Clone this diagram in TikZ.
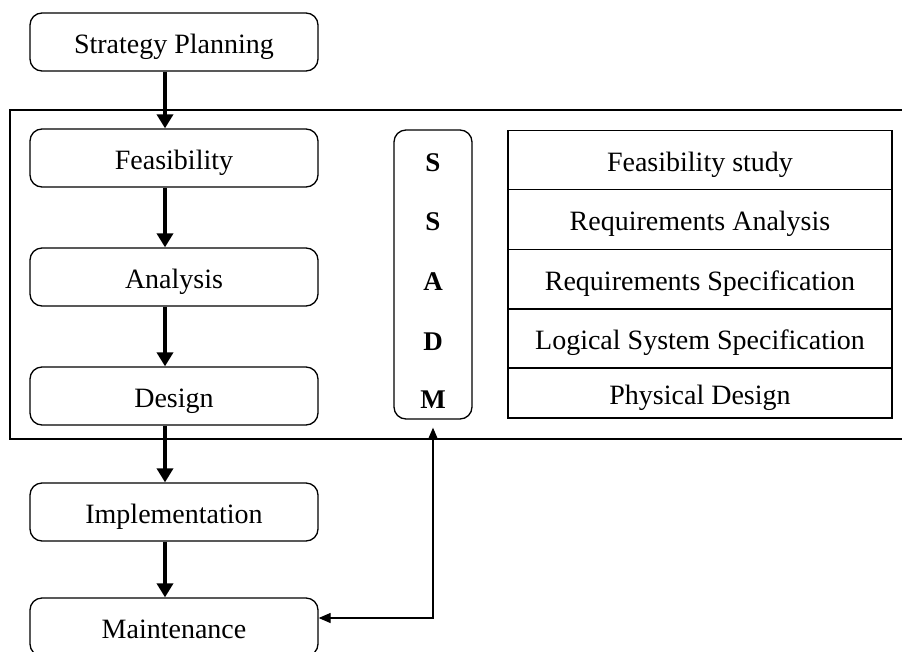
\documentclass[tikz,border=0pt]{standalone}
\usepackage{fontspec}
\setmainfont{Liberation Serif}
\usetikzlibrary{arrows.meta}

\begin{document}
\begin{tikzpicture}[x=1pt,y=-1pt,
    phase/.style={draw, line width=1.3pt, rounded corners=12pt, minimum width=288pt,
      minimum height=58pt, text height=22pt, text depth=0pt, inner sep=0pt,
      font=\fontsize{28}{32}\selectfont},
    row/.style={draw, line width=1.3pt, minimum width=384pt, minimum height=59.5pt,
      text height=22pt, text depth=0pt, inner sep=0pt, font=\fontsize{28}{32}\selectfont},
    letter/.style={font=\fontsize{27}{30}\bfseries\selectfont, inner sep=0pt},
    flow/.style={line width=3.5pt, -{Triangle[width=16pt,length=14pt]}},
    back/.style={line width=1.3pt, {Triangle[width=10pt,length=12pt]}-{Triangle[width=10pt,length=12pt]}}]
  \useasboundingbox (0,0) rectangle (902,651);

  % frame round the SSADM part
  \draw[line width=1.3pt] (905,110) -- (10,110) -- (10,439) -- (905,439);

  % life cycle phases
  \node[phase] (strat) at (174,42) {Strategy Planning};
  \node[phase] (feas) at (174,158) {Feasibility};
  \node[phase] (anal) at (174,277) {Analysis};
  \node[phase] (des) at (174,396) {Design};
  \node[phase] (impl) at (174,512) {Implementation};
  \node[phase] (maint) at (174,627) {Maintenance};

  % arrows between phases
  \foreach \a/\b in {strat/feas, feas/anal, anal/des, des/impl, impl/maint}
    \draw[flow] ([xshift=-9pt]\a.south) -- ([xshift=-9pt]\b.north);

  % SSADM column
  \node[draw, line width=1.3pt, rounded corners=12pt, minimum width=78pt,
        minimum height=289pt] (ssadm) at (433,274.5) {};
  \foreach \l/\y [count=\i] in {S/163, S/222, A/282, D/342, M/400}
    \node[letter] (let\i) at (433,\y) {\l};

  % SSADM stages
  \node[row] (st1) at (700,160) {Feasibility study};
  \node[row] (st2) at (700,219.5) {Requirements Analysis};
  \node[row] (st3) at (700,279) {Requirements Specification};
  \node[row, minimum height=59pt] (st4) at (700,338.5) {Logical System Specification};
  \node[row, minimum height=50pt] (st5) at (700,393) {Physical Design};

  % link from maintenance back to SSADM
  \coordinate (corner) at (433,618);
  \draw[back, shorten >=8pt] ([yshift=9pt]maint.east) -- (corner) -- (ssadm.south);
\end{tikzpicture}
\end{document}
